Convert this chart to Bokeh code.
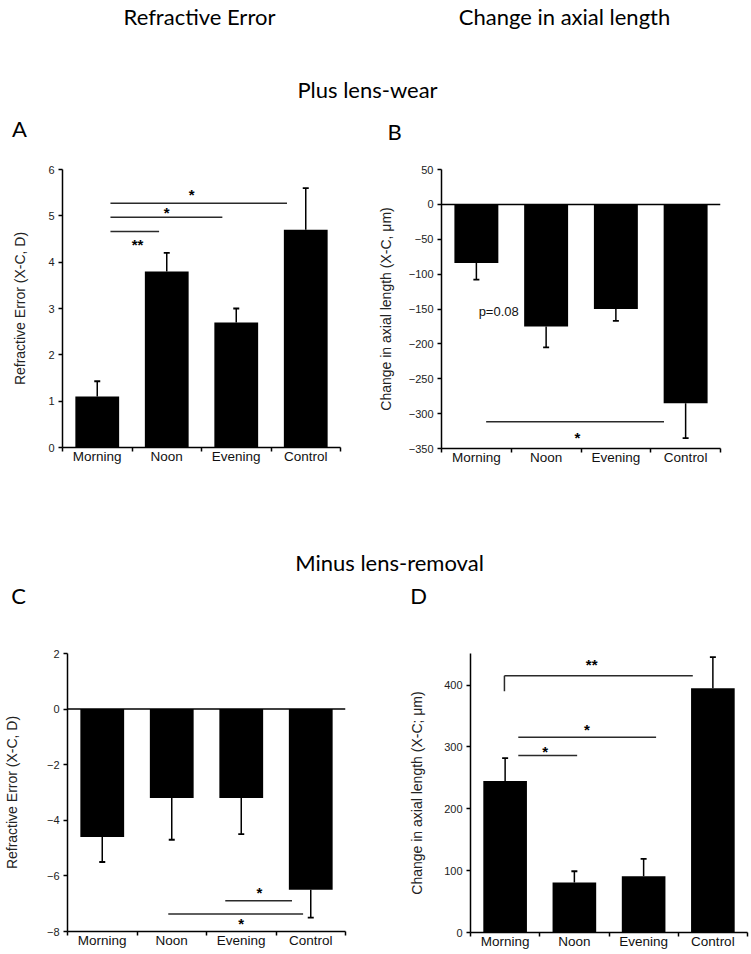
from bokeh.plotting import figure
from bokeh.layouts import column, row
from bokeh.models import Range1d, FixedTicker, Span
from bokeh.core.properties import value
from bokeh.embed import file_html
from bokeh.resources import INLINE

# ---------------- data ----------------
categories = ["Morning", "Noon", "Evening", "Control"]

a_values = [1.1, 3.8, 2.7, 4.7]
a_sem = [0.33, 0.4, 0.3, 0.9]
b_values = [-84, -175, -150, -285]
b_sem = [24, 30, 17, 50]
c_values = [-4.6, -3.2, -3.2, -6.5]
c_sem = [0.9, 1.5, 1.3, 1.0]
d_values = [245, 81, 91, 395]
d_sem = [37, 18, 28, 50]

a_yticks = [0, 1, 2, 3, 4, 5, 6]
b_yticks = [50, 0, -50, -100, -150, -200, -250, -300, -350]
c_yticks = [2, 0, -2, -4, -6, -8]
d_yticks = [0, 100, 200, 300, 400]

# significance bars: x0, x1, y ; stars: text, x, y
a_sig_x0 = [0.69, 0.69, 0.69]
a_sig_x1 = [3.23, 2.30, 1.39]
a_sig_y = [5.27, 4.97, 4.66]
a_star_text = ["*", "*", "**"]
a_star_x = [1.86, 1.50, 1.08]
a_star_y = [5.53, 5.14, 4.45]

b_sig_x0 = [0.64]
b_sig_x1 = [3.19]
b_sig_y = [-311.5]
b_star_text = ["*"]
b_star_x = [1.95]
b_star_y = [-329.6]
b_note = ["p=0.08"]
b_note_x = [0.82]
b_note_y = [-154]

c_sig_x0 = [2.27, 1.45]
c_sig_x1 = [3.23, 3.39]
c_sig_y = [-6.89, -7.37]
c_star_text = ["*", "*"]
c_star_x = [2.76, 2.50]
c_star_y = [-6.49, -7.61]

d_sig_x0 = [0.49, 0.69, 0.69]
d_sig_x1 = [3.21, 2.68, 1.54]
d_sig_y = [415, 315.5, 286]
d_leg_x = [0.49]
d_leg_y0 = [415]
d_leg_y1 = [390]
d_star_text = ["**", "*", "*"]
d_star_x = [1.75, 1.68, 1.08]
d_star_y = [438, 333, 297]

PLOT_FONT = "Liberation Sans"
HEAD_FONT = "Lato"
HEAD_SIZE = "22px"
BAR_W = 0.63


def panel(vals, sem, ystart, yend, yticks, ylabel, fw, fh, bl, br, bt, bb,
          lab_standoff, zero_line):
    n = len(categories)
    xs = [i + 0.5 for i in range(n)]
    p = figure(x_range=Range1d(0, n), y_range=Range1d(ystart, yend),
               frame_width=fw, frame_height=fh,
               min_border_left=bl, min_border_right=br,
               min_border_top=bt, min_border_bottom=bb,
               output_backend="svg", toolbar_location=None)
    p.xgrid.visible = False
    p.ygrid.visible = False
    p.outline_line_color = None
    p.background_fill_color = "white"
    p.border_fill_color = "white"

    # bars
    p.vbar(x=xs, top=vals, bottom=0, width=BAR_W, fill_color="black", line_color=None)
    # one-sided error bars
    tips = [v + s if v >= 0 else v - s for v, s in zip(vals, sem)]
    p.segment(x0=xs, y0=vals, x1=xs, y1=tips, line_color="black", line_width=1.5)
    p.scatter(x=xs, y=tips, marker="dash", size=6, line_color="black", line_width=1.8)

    if zero_line:
        p.add_layout(Span(location=0, dimension="width", line_color="black", line_width=1.5))

    # x axis
    xa = p.xaxis[0]
    xa.ticker = FixedTicker(ticks=xs, minor_ticks=list(range(n + 1)))
    xa.major_label_overrides = {x: c for x, c in zip(xs, categories)}
    xa.major_tick_out = 0
    xa.major_tick_in = 0
    xa.minor_tick_out = 4
    xa.minor_tick_in = 0
    xa.minor_tick_line_width = 1.5
    xa.minor_tick_line_color = "black"
    xa.axis_line_width = 1.5
    xa.axis_line_color = "black"
    xa.major_label_text_font = PLOT_FONT
    xa.major_label_text_font_size = "13.5px"
    xa.major_label_text_color = "#111111"
    xa.major_label_standoff = -3

    # y axis
    ya = p.yaxis[0]
    ya.ticker = FixedTicker(ticks=yticks, minor_ticks=[])
    ya.major_tick_out = 4
    ya.major_tick_in = 0
    ya.major_tick_line_width = 1.5
    ya.major_tick_line_color = "black"
    ya.axis_line_width = 1.5
    ya.axis_line_color = "black"
    ya.major_label_text_font = PLOT_FONT
    ya.major_label_text_font_size = "11px"
    ya.major_label_text_color = "#222222"
    ya.major_label_standoff = 4
    ya.axis_label = ylabel
    ya.axis_label_text_font = PLOT_FONT
    ya.axis_label_text_font_style = "normal"
    ya.axis_label_text_font_size = "14px"
    ya.axis_label_text_color = "#222222"
    ya.axis_label_standoff = lab_standoff
    return p


def add_sig(p, x0, x1, y, st, sx, sy):
    p.segment(x0=x0, y0=y, x1=x1, y1=y, line_color="#2a2a2a", line_width=1.5)
    p.text(x=sx, y=sy, text=st, text_align="center", text_baseline="middle",
           y_offset=3, text_font=value(PLOT_FONT), text_font_size="15px",
           text_font_style="bold", text_color="black")


pa = panel(a_values, a_sem, 0, 6, a_yticks, "Refractive Error (X-C, D)",
           278, 278, 62, 30, 21, 33, 17, False)
add_sig(pa, a_sig_x0, a_sig_x1, a_sig_y, a_star_text, a_star_x, a_star_y)

pb = panel(b_values, b_sem, -350, 50, b_yticks, "Change in axial length (X-C, μm)",
           279, 279, 71, 31, 20, 33, 12, True)
add_sig(pb, b_sig_x0, b_sig_x1, b_sig_y, b_star_text, b_star_x, b_star_y)
pb.text(x=b_note_x, y=b_note_y, text=b_note, text_align="center", text_baseline="middle",
        text_font=value(PLOT_FONT), text_font_size="13px", text_color="#111111")

pc = panel(c_values, c_sem, -8, 2, c_yticks, "Refractive Error (X-C, D)",
           278, 278, 62, 30, 43, 23, 24, True)
add_sig(pc, c_sig_x0, c_sig_x1, c_sig_y, c_star_text, c_star_x, c_star_y)

pd_ = panel(d_values, d_sem, 0, 451, d_yticks, "Change in axial length (X-C; μm)",
            277, 279, 95, 9, 42, 23, 16, False)
add_sig(pd_, d_sig_x0, d_sig_x1, d_sig_y, d_star_text, d_star_x, d_star_y)
pd_.segment(x0=d_leg_x, y0=d_leg_y0, x1=d_leg_x, y1=d_leg_y1, line_color="#2a2a2a", line_width=1.5)


def header(w, h, texts, xs, ys):
    f = figure(width=w, height=h, x_range=Range1d(0, w), y_range=Range1d(h, 0),
               x_axis_location=None, y_axis_location=None,
               min_border=0, output_backend="svg", toolbar_location=None)
    f.xgrid.visible = False
    f.ygrid.visible = False
    f.outline_line_color = None
    f.background_fill_color = "white"
    f.border_fill_color = "white"
    f.text(x=xs, y=ys, text=texts, text_align="center", text_baseline="middle",
           text_font=value(HEAD_FONT), text_font_size=HEAD_SIZE, text_color="black")
    return f


h1 = header(751, 148,
            ["Refractive Error", "Change in axial length", "Plus lens-wear", "A", "B"],
            [199, 564, 367, 19, 394], [16, 16, 89, 128, 131])
h2 = header(751, 130,
            ["Minus lens-removal", "C", "D"],
            [389, 18, 418], [82, 115, 115])

layout = column(h1, row(pa, pb), h2, row(pc, pd_))

with open("out.html", "w") as fh:
    fh.write(file_html(layout, INLINE))
